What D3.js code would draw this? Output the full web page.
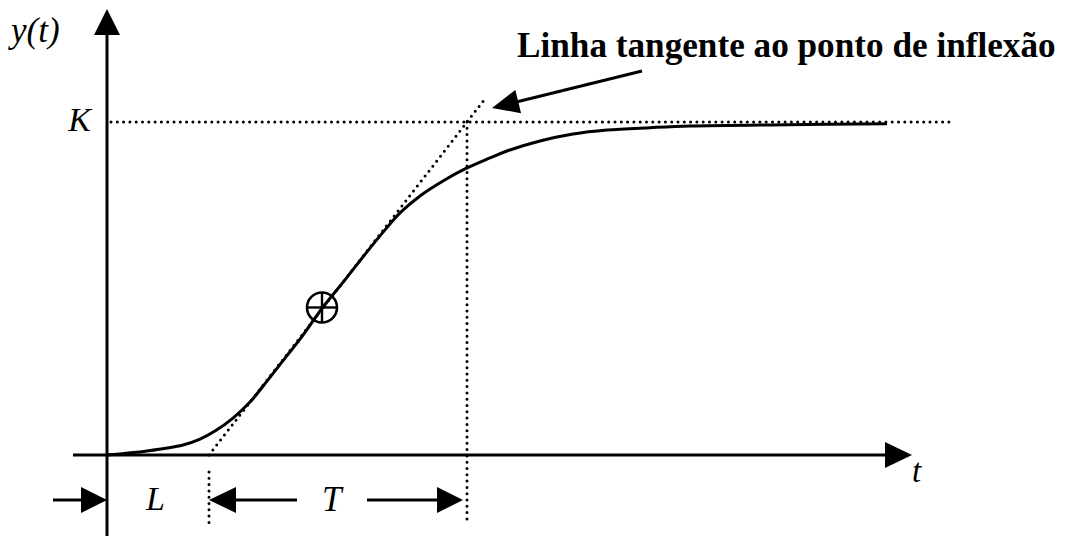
<!DOCTYPE html>
<html>
<head>
<meta charset="utf-8">
<script src="https://cdn.jsdelivr.net/npm/d3@7"></script>
<style>
  html, body { margin: 0; padding: 0; background: #fff; }
  svg { display: block; }
  .lbl { font-family: "Liberation Serif", "Times New Roman", serif; font-style: italic; fill: #000; }
  .note { font-family: "Liberation Serif", "Times New Roman", serif; font-weight: bold; fill: #000; }
</style>
</head>
<body>
<script>
// Step response y(t) of a first-order-plus-dead-time process (S-shaped curve)
const stepTime = [0, 0.40, 0.76, 0.93, 1.08, 1.26, 1.43, 1.60, 1.78, 1.93, 2.15, 2.38, 2.60, 2.78, 2.93, 3.13, 3.36, 3.58, 3.83, 4.00, 4.33, 4.66, 5.00, 5.43, 5.83, 6.80, 7.80];
const stepValue = [0, 0.012, 0.030, 0.048, 0.072, 0.111, 0.159, 0.222, 0.291, 0.348, 0.440, 0.526, 0.610, 0.676, 0.727, 0.778, 0.823, 0.859, 0.892, 0.913, 0.943, 0.964, 0.976, 0.983, 0.988, 0.992, 0.995];

// Gain, dead time and time constant from the tangent at the inflection point
const K = 1;
const L = 1.02;
const T = 2.58;
const inflection = [2.15, 0.443];
const tangentEnd = 3.78;

const axisLabels = { y: "y(t)", x: "t", gain: "K", delay: "L", tau: "T" };
const noteText = "Linha tangente ao ponto de inflexão";

const W = 1072, H = 536;
const svg = d3.select("body").append("svg").attr("width", W).attr("height", H);

const x = d3.scaleLinear().domain([0, 8]).range([107, 907]);
const y = d3.scaleLinear().domain([0, K]).range([455, 122]);

const dotted = sel => sel.attr("stroke", "#000").attr("stroke-width", 3)
  .attr("stroke-linecap", "round").attr("stroke-dasharray", "0,6.3").attr("fill", "none");

function arrowHead(g, tipX, tipY, angle, len, half) {
  g.append("path")
    .attr("d", `M0,0 L${-len},${-half} L${-len},${half} Z`)
    .attr("transform", `translate(${tipX},${tipY}) rotate(${angle})`)
    .attr("fill", "#000");
}

const x0 = x(0), y0 = y(0);

// Axes
svg.append("line").attr("x1", 73).attr("x2", 887).attr("y1", y0).attr("y2", y0)
  .attr("stroke", "#000").attr("stroke-width", 3);
arrowHead(svg, 912, y0, 0, 27, 13);
svg.append("line").attr("x1", x0).attr("x2", x0).attr("y1", H).attr("y2", 33)
  .attr("stroke", "#000").attr("stroke-width", 3);
arrowHead(svg, x0, 9, -90, 26, 13);

// Final value K
svg.append("line").attr("x1", x0 + 4).attr("x2", 953).attr("y1", y(K)).attr("y2", y(K)).call(dotted);

// Tangent line through the inflection point
svg.append("line")
  .attr("x1", x(L)).attr("y1", y(0))
  .attr("x2", x(tangentEnd)).attr("y2", y(K * (tangentEnd - L) / T))
  .call(dotted);

// Vertical guides at L and L+T
svg.append("line").attr("x1", x(L)).attr("x2", x(L)).attr("y1", 472).attr("y2", 528).call(dotted);
svg.append("line").attr("x1", x(L + T)).attr("x2", x(L + T)).attr("y1", y(K)).attr("y2", 520).call(dotted);

// Response curve
const line = d3.line().x(d => x(d[0])).y(d => y(d[1])).curve(d3.curveCatmullRom.alpha(0.5));
svg.append("path").datum(d3.zip(stepTime, stepValue)).attr("d", line)
  .attr("fill", "none").attr("stroke", "#000").attr("stroke-width", 3).attr("stroke-linejoin", "round");

// Inflection point marker
const cx = x(inflection[0]), cy = y(inflection[1]), r = 15;
svg.append("circle").attr("cx", cx).attr("cy", cy).attr("r", r)
  .attr("fill", "none").attr("stroke", "#000").attr("stroke-width", 2.6);
svg.append("line").attr("x1", cx - r).attr("x2", cx + r).attr("y1", cy).attr("y2", cy).attr("stroke", "#000").attr("stroke-width", 2.4);
svg.append("line").attr("x1", cx).attr("x2", cx).attr("y1", cy - r).attr("y2", cy + r).attr("stroke", "#000").attr("stroke-width", 2.4);

// Dimension arrows for L and T
const ay = 500;
svg.append("line").attr("x1", 53).attr("x2", x(0) - 24).attr("y1", ay).attr("y2", ay).attr("stroke", "#000").attr("stroke-width", 3);
arrowHead(svg, x(0), ay, 0, 26, 13);
svg.append("line").attr("x1", x(L) + 24).attr("x2", 297).attr("y1", ay).attr("y2", ay).attr("stroke", "#000").attr("stroke-width", 3);
arrowHead(svg, x(L), ay, 180, 27, 13);
svg.append("line").attr("x1", 367).attr("x2", x(L + T) - 28).attr("y1", ay).attr("y2", ay).attr("stroke", "#000").attr("stroke-width", 3);
arrowHead(svg, x(L + T) - 4, ay, 0, 26, 13);

// Labels
svg.append("text").attr("class", "lbl").attr("x", 11).attr("y", 42).attr("font-size", 35).text(axisLabels.y);
svg.append("text").attr("class", "lbl").attr("x", 91).attr("y", 131).attr("text-anchor", "end").attr("font-size", 34).text(axisLabels.gain);
svg.append("text").attr("class", "lbl").attr("x", 912).attr("y", 482).attr("font-size", 33).text(axisLabels.x);
svg.append("text").attr("class", "lbl").attr("x", 146).attr("y", 510).attr("font-size", 34).text(axisLabels.delay);
svg.append("text").attr("class", "lbl").attr("x", 322).attr("y", 511).attr("font-size", 35).text(axisLabels.tau);

// Annotation for the tangent line
svg.append("text").attr("class", "note").attr("x", 517).attr("y", 57).attr("font-size", 35.2).text(noteText);
const tipX = 492, tipY = 108, fromX = 642, fromY = 71;
const ang = Math.atan2(tipY - fromY, tipX - fromX) * 180 / Math.PI;
const dist = Math.hypot(tipX - fromX, tipY - fromY);
const ux = (tipX - fromX) / dist, uy = (tipY - fromY) / dist;
svg.append("line").attr("x1", fromX).attr("y1", fromY).attr("x2", tipX - ux * 24).attr("y2", tipY - uy * 24)
  .attr("stroke", "#000").attr("stroke-width", 3);
arrowHead(svg, tipX, tipY, ang, 27, 12);
</script>
</body>
</html>
